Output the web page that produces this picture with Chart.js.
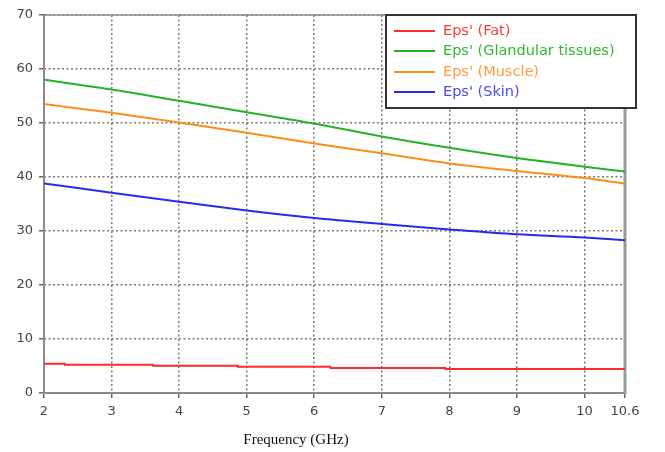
<!DOCTYPE html>
<html>
<head>
<meta charset="utf-8">
<script src="https://cdn.jsdelivr.net/npm/chart.js@4"></script>
<style>
  html, body { margin: 0; padding: 0; background: #fff; }
  #wrap { width: 665px; height: 452px; }
</style>
</head>
<body>
<div id="wrap"><canvas id="eps-chart" width="665" height="452"></canvas></div>
<script>
// frequency points (GHz) and tick labels
var freqs = [2, 3, 4, 5, 6, 7, 8, 9, 10, 10.6]
var xTicks = [2, 3, 4, 5, 6, 7, 8, 9, 10, 10.6]
var yTicks = [0, 10, 20, 30, 40, 50, 60, 70]

// permittivity
var glandular = [58.0, 56.2, 54.1, 52.0, 49.9, 47.5, 45.4, 43.5, 41.9, 41.0]
var muscle    = [53.5, 51.9, 50.1, 48.2, 46.2, 44.4, 42.5, 41.1, 39.8, 38.8]
var skin      = [38.8, 37.1, 35.4, 33.8, 32.4, 31.3, 30.3, 29.4, 28.8, 28.3]
// fat is a stepped curve
var fatFreqs = [2, 2.31, 3.61, 4.87, 6.24, 7.94, 10.22, 10.6]
var fat      = [5.6, 5.4, 5.25, 5.05, 4.85, 4.65, 4.45, 4.45]

var labels = ["Eps' (Fat)", "Eps' (Glandular tissues)", "Eps' (Muscle)", "Eps' (Skin)"]
var lineColors = ['#ff2a2a', '#22b422', '#ff8c1a', '#2a2aee']
var textColors = ['#ff3b3b', '#30b830', '#ff9a3a', '#4a4aee']

function pts(xs, ys) {
    return xs.map(function (x, i) { return { x: x, y: ys[i] } })
}

var lineOpts = {
    borderWidth: 2,
    pointRadius: 0,
    cubicInterpolationMode: 'monotone',
    fill: false
}

// plot frame: grey box, heavier on the right
var framePlugin = {
    id: 'frame',
    beforeDatasetsDraw: function (chart) {
        var a = chart.chartArea, c = chart.ctx
        c.save()
        c.strokeStyle = '#8a8a8a'
        c.lineWidth = 1.5
        c.beginPath()
        c.moveTo(a.left, a.top); c.lineTo(a.right, a.top)
        c.stroke()
        c.lineWidth = 2
        c.beginPath()
        c.moveTo(a.left, a.top); c.lineTo(a.left, a.bottom); c.lineTo(a.right, a.bottom)
        c.stroke()
        c.lineWidth = 3
        c.strokeStyle = '#999'
        c.beginPath()
        c.moveTo(a.right, a.top); c.lineTo(a.right, a.bottom + 1)
        c.stroke()
        c.restore()
    }
}

// boxed legend in the top right corner + axis title
var legendPlugin = {
    id: 'boxLegend',
    afterDraw: function (chart) {
        var c = chart.ctx
        var bx = 386, by = 15, bw = 250, bh = 93
        c.save()
        c.fillStyle = '#fff'
        c.fillRect(bx, by, bw, bh)
        c.strokeStyle = '#333'
        c.lineWidth = 2
        c.strokeRect(bx, by, bw, bh)
        c.font = '14.5px "DejaVu Sans"'
        c.textBaseline = 'middle'
        var rows = [31, 51, 72, 92]
        for (var i = 0; i < labels.length; i++) {
            c.strokeStyle = lineColors[i]
            c.lineWidth = 2
            c.beginPath()
            c.moveTo(394, rows[i]); c.lineTo(435, rows[i])
            c.stroke()
            c.fillStyle = textColors[i]
            c.fillText(labels[i], 443, rows[i])
        }
        c.fillStyle = '#111'
        c.font = '15px "Liberation Serif"'
        c.textAlign = 'center'
        c.textBaseline = 'middle'
        c.fillText('Frequency (GHz)', 296, 440)
        c.restore()
    }
}

var ctx = document.getElementById('eps-chart').getContext('2d')

new Chart(ctx, {
    type: 'line',
    data: {
        datasets: [
            { label: labels[0], data: pts(fatFreqs, fat), ...lineOpts, borderColor: lineColors[0], stepped: 'after' },
            { label: labels[1], data: pts(freqs, glandular), ...lineOpts, borderColor: lineColors[1] },
            { label: labels[2], data: pts(freqs, muscle), ...lineOpts, borderColor: lineColors[2] },
            { label: labels[3], data: pts(freqs, skin), ...lineOpts, borderColor: lineColors[3] }
        ]
    },
    options: {
        responsive: false,
        animation: false,
        layout: { padding: { top: 15, right: 40, left: 0, bottom: 0 } },
        plugins: {
            legend: { display: false },
            tooltip: { enabled: false }
        },
        scales: {
            x: {
                type: 'linear',
                min: 2,
                max: 10.6,
                afterBuildTicks: function (scale) {
                    scale.ticks = xTicks.map(function (v) { return { value: v } })
                },
                afterFit: function (scale) { scale.height = 59 },
                ticks: {
                    autoSkip: false,
                    maxRotation: 0,
                    padding: 6,
                    color: '#444',
                    font: { family: 'DejaVu Sans', size: 13 },
                    callback: function (v) { return '' + v }
                },
                grid: {
                    color: '#7a7a7a',
                    lineWidth: 1.5,
                    tickLength: 5,
                    tickColor: '#666',
                    tickBorderDash: []
                },
                border: { display: false, dash: [2, 2.5] }
            },
            y: {
                min: 0,
                max: 70,
                afterBuildTicks: function (scale) {
                    scale.ticks = yTicks.map(function (v) { return { value: v } })
                },
                afterFit: function (scale) { scale.width = 44 },
                ticks: {
                    padding: 6,
                    color: '#444',
                    font: { family: 'DejaVu Sans', size: 13 }
                },
                grid: {
                    color: '#7a7a7a',
                    lineWidth: 1.5,
                    tickLength: 5,
                    tickColor: '#666',
                    tickBorderDash: []
                },
                border: { display: false, dash: [2, 2.5] }
            }
        }
    },
    plugins: [framePlugin, legendPlugin]
})
</script>
</body>
</html>
